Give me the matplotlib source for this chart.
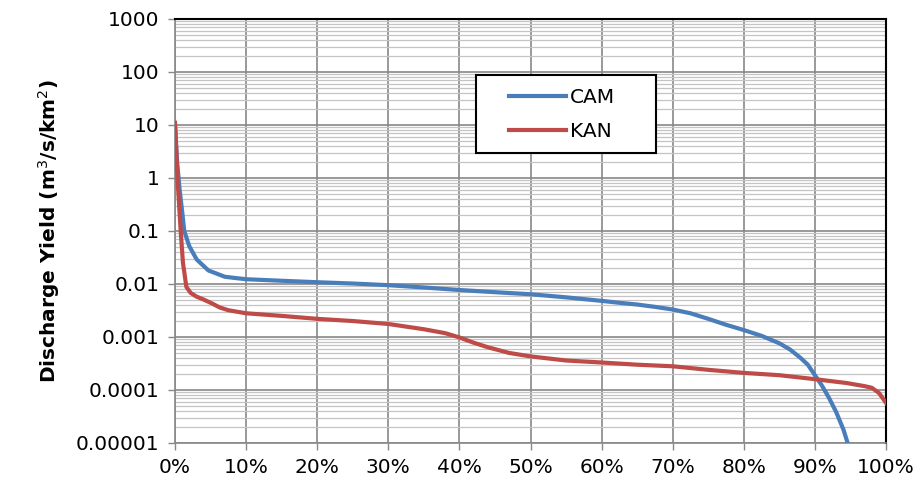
import matplotlib
matplotlib.use("Agg")
import matplotlib.pyplot as plt
from matplotlib.patches import Rectangle
from matplotlib.ticker import FixedLocator, LogLocator, NullFormatter, PercentFormatter

# Flow duration curves (x in %, y in m3/s/km2)
cam_pct = [0, 0.3, 0.65, 1.03, 1.3, 2.0, 3.05, 4.7, 7, 8.4, 10, 15, 20, 25,
           30, 35, 40, 45, 50, 55, 60, 62.6, 65, 67.5, 70, 72.5, 75, 77.5,
           80, 82.5, 85, 86.5, 88, 89, 90, 91, 92, 93, 94, 94.6]
cam_yield = [10, 2.0, 0.6, 0.22, 0.1, 0.052, 0.029, 0.018, 0.0137, 0.013,
             0.0123, 0.0115, 0.0108, 0.0102, 0.0095, 0.0086, 0.0077, 0.007,
             0.0064, 0.0056, 0.0048, 0.0044, 0.0041, 0.0037, 0.0033, 0.0028,
             0.0022, 0.0017, 0.00135, 0.00105, 0.00076, 0.00058, 0.0004,
             0.0003, 0.00019, 0.00012, 0.00007, 0.000038, 0.000018, 0.00001]

kan_pct = [0, 0.37, 0.8, 1.12, 1.6, 2.2, 3.0, 4, 5.2, 6.3, 7.5, 10, 15, 20,
           25, 30, 35, 38, 40, 42, 44, 47, 50, 55, 60, 65, 70, 75, 80, 85,
           90, 94.5, 97, 98, 99, 100]
kan_yield = [11, 0.9, 0.1, 0.025, 0.0088, 0.0068, 0.0058, 0.0051, 0.0043,
             0.0036, 0.0032, 0.0028, 0.0025, 0.0022, 0.002, 0.00176, 0.0014,
             0.00118, 0.00098, 0.00078, 0.00064, 0.0005, 0.00043, 0.00036,
             0.00033, 0.0003, 0.00028, 0.00024, 0.00021, 0.00019, 0.00016,
             0.000135, 0.000118, 0.00011, 0.000088, 0.000057]

CAM_COLOR = "#4A7EBB"
KAN_COLOR = "#BE4B48"

plt.rcParams["font.family"] = ["DejaVu Sans"]

fig = plt.figure(figsize=(9.22, 4.96), dpi=100)
ax = fig.add_axes([0.1898, 0.1069, 0.7712, 0.8548])

ax.plot(cam_pct, cam_yield, color=CAM_COLOR, linewidth=3, label="CAM",
        solid_joinstyle="round", zorder=3)
ax.plot(kan_pct, kan_yield, color=KAN_COLOR, linewidth=3, label="KAN",
        solid_joinstyle="round", zorder=4)

ax.set_yscale("log")
ax.set_ylim(1e-5, 1000)
ax.set_xlim(0, 100)

# y ticks / grid
yticks = [1e-5, 1e-4, 1e-3, 1e-2, 1e-1, 1, 10, 100, 1000]
ytick_labels = ["0.00001", "0.0001", "0.001", "0.01", "0.1", "1", "10", "100", "1000"]
ax.yaxis.set_major_locator(FixedLocator(yticks))
ax.set_yticklabels(ytick_labels)
ax.yaxis.set_minor_locator(LogLocator(base=10, subs=range(2, 10), numticks=20))
ax.yaxis.set_minor_formatter(NullFormatter())
ax.tick_params(axis="y", which="minor", length=0)

ax.set_xticks(range(0, 101, 10))
ax.xaxis.set_major_formatter(PercentFormatter(decimals=0))

ax.grid(True, which="major", axis="both", color="#888888", linewidth=1.2, zorder=1)
ax.grid(True, which="minor", axis="y", color="#C4C4C4", linewidth=0.9, zorder=1)
ax.set_axisbelow(True)

ax.tick_params(axis="both", which="major", direction="out", length=5,
               width=1, color="#888888", labelsize=14.5, pad=6)

for side in ["left", "bottom"]:
    ax.spines[side].set_color("#888888")
    ax.spines[side].set_linewidth(1.2)
for side in ["top", "right"]:
    ax.spines[side].set_color("black")
    ax.spines[side].set_linewidth(1.5)

ax.set_ylabel("Discharge Yield (m$^3$/s/km$^2$)", fontsize=14.5,
              fontweight="bold", labelpad=10)

# legend box (Excel-style, wide with empty right side)
ax.add_patch(Rectangle((0.4233, 0.684), 0.2532, 0.184, transform=ax.transAxes,
                       facecolor="white", edgecolor="black", linewidth=1.5,
                       zorder=5))
leg = ax.legend(loc="upper left", bbox_to_anchor=(0.47, 0.838),
                fontsize=14.5, frameon=False, handlelength=2.8,
                borderpad=0, labelspacing=0.75, handletextpad=0.2,
                borderaxespad=0)
leg.set_zorder(6)

plt.savefig("out.png", dpi=100, facecolor="white")
